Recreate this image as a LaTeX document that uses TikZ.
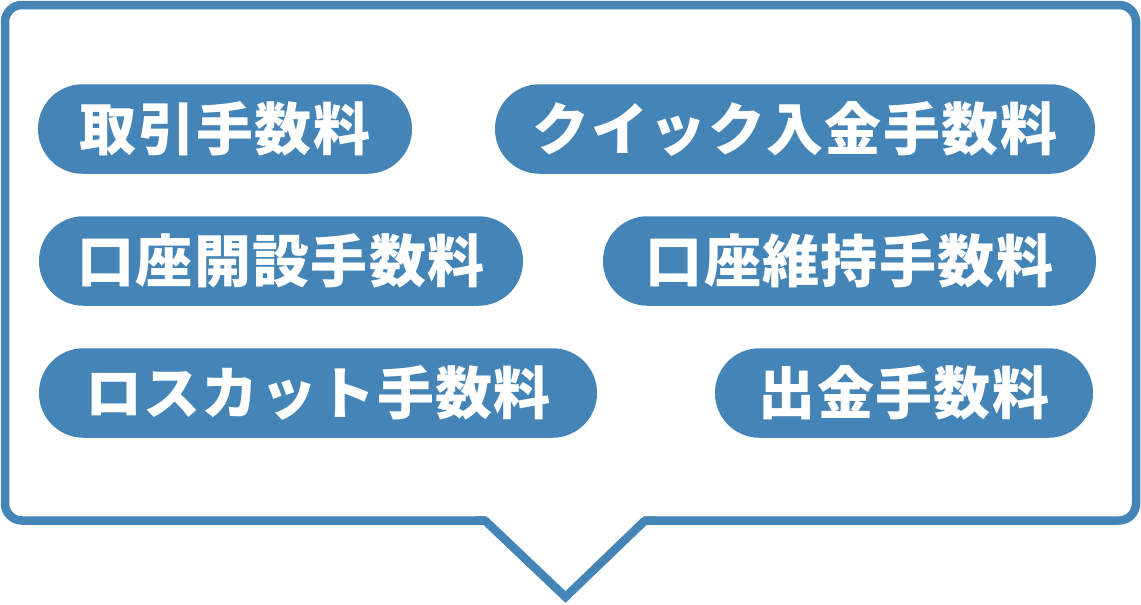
\documentclass[tikz,border=0pt]{standalone}
\usepackage{fontspec}
\newfontfamily\cjk[LetterSpace=2.5]{Noto Sans CJK JP}
\definecolor{bubbleblue}{RGB}{68,132,182}
\begin{document}
\begin{tikzpicture}[x=1pt,y=-1pt,
  pill/.style={rectangle, rounded corners=44.5pt, fill=bubbleblue, inner sep=0pt,
    minimum height=89.5pt, text=white, font=\cjk\bfseries\fontsize{57}{60}\selectfont},
  bubble/.style={draw=bubbleblue, line width=8.5pt, rounded corners=17pt}]
\useasboundingbox (0,0) rectangle (1141,605);
\coordinate (tl) at (5,5);
\coordinate (tr) at (1136,5);
\coordinate (br) at (1136,520.5);
\coordinate (bl) at (5,520.5);
\coordinate (t1) at (485,520.5);
\coordinate (tip) at (565.5,597);
\coordinate (t2) at (645,520.5);
\draw[bubble] (t1) -- (bl) -- (tl) -- (tr) -- (br) -- (t2);
\draw[draw=bubbleblue, line width=8.5pt, line join=miter] ([xshift=2pt]t1) -- (t1) -- (tip) -- (t2) -- ([xshift=-2pt]t2);
\node[pill, minimum width=374pt] (p1) at (225,129) {取引手数料};
\node[pill, minimum width=600pt] (p2) at (795,129) {クイック入金手数料};
\node[pill, minimum width=484pt] (p3) at (281,261) {口座開設手数料};
\node[pill, minimum width=493pt] (p4) at (849.5,261) {口座維持手数料};
\node[pill, minimum width=558pt] (p5) at (318,393) {ロスカット手数料};
\node[pill, minimum width=378pt] (p6) at (904,393) {出金手数料};
\end{tikzpicture}
\end{document}
